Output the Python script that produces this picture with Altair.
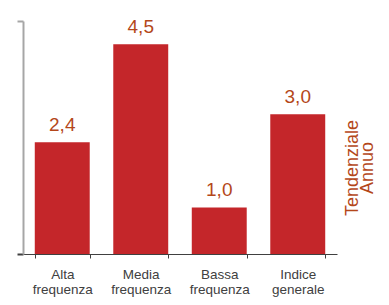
import altair as alt
import pandas as pd

categories = ["Alta frequenza", "Media frequenza", "Bassa frequenza", "Indice generale"]
values = [2.4, 4.5, 1.0, 3.0]
value_labels = ["2,4", "4,5", "1,0", "3,0"]

df = pd.DataFrame({"cat": categories, "val": values, "lab": value_labels})

x = alt.X("cat:N", sort=categories, title=None,
          scale=alt.Scale(paddingInner=0.3, paddingOuter=0.15),
          axis=alt.Axis(labelAngle=0, labelExpr="split(datum.label, ' ')",
                        labelFont="Liberation Sans", labelFontSize=13.5, labelColor="#404040",
                        labelLineHeight=15, labelPadding=9, labelBaseline="top",
                        domainColor="#404040", tickColor="#404040", tickSize=4,
                        tickBand="extent", domainWidth=1, tickWidth=1))

y = alt.Y("val:Q", scale=alt.Scale(domain=[0, 5], nice=False, zero=True),
          axis=alt.Axis(values=[0, 5], labels=False, grid=False, tickSize=6,
                        domainColor="#A6A6A6", domainWidth=2,
                        tickColor={"expr": "datum.value == 0 ? '#404040' : '#A6A6A6'"},
                        tickWidth=2,
                        title=["Tendenziale", "Annuo"], titleAngle=270,
                        titleFont="Liberation Sans", titleFontSize=18, titleFontWeight="normal",
                        titleColor="#B4471A", titleX=329, titleY=146.5, titleAlign="center",
                        titleBaseline="middle", titleLineHeight=15.5))

bars = alt.Chart(df).mark_bar(color="#C4262A").encode(x=x, y=y)
text = alt.Chart(df).mark_text(font="Liberation Sans", fontSize=19, color="#B4471A",
                               baseline="alphabetic", dy=-11).encode(
    x=alt.X("cat:N", sort=categories), y="val:Q", text="lab:N")

chart = (bars + text).properties(
    width=314, height=233,
    autosize="none",
    padding={"left": 15, "top": 13, "right": 43, "bottom": 43},
).configure_view(stroke=None)

chart.save("out.html", embed_options={"renderer": "svg", "actions": False})
